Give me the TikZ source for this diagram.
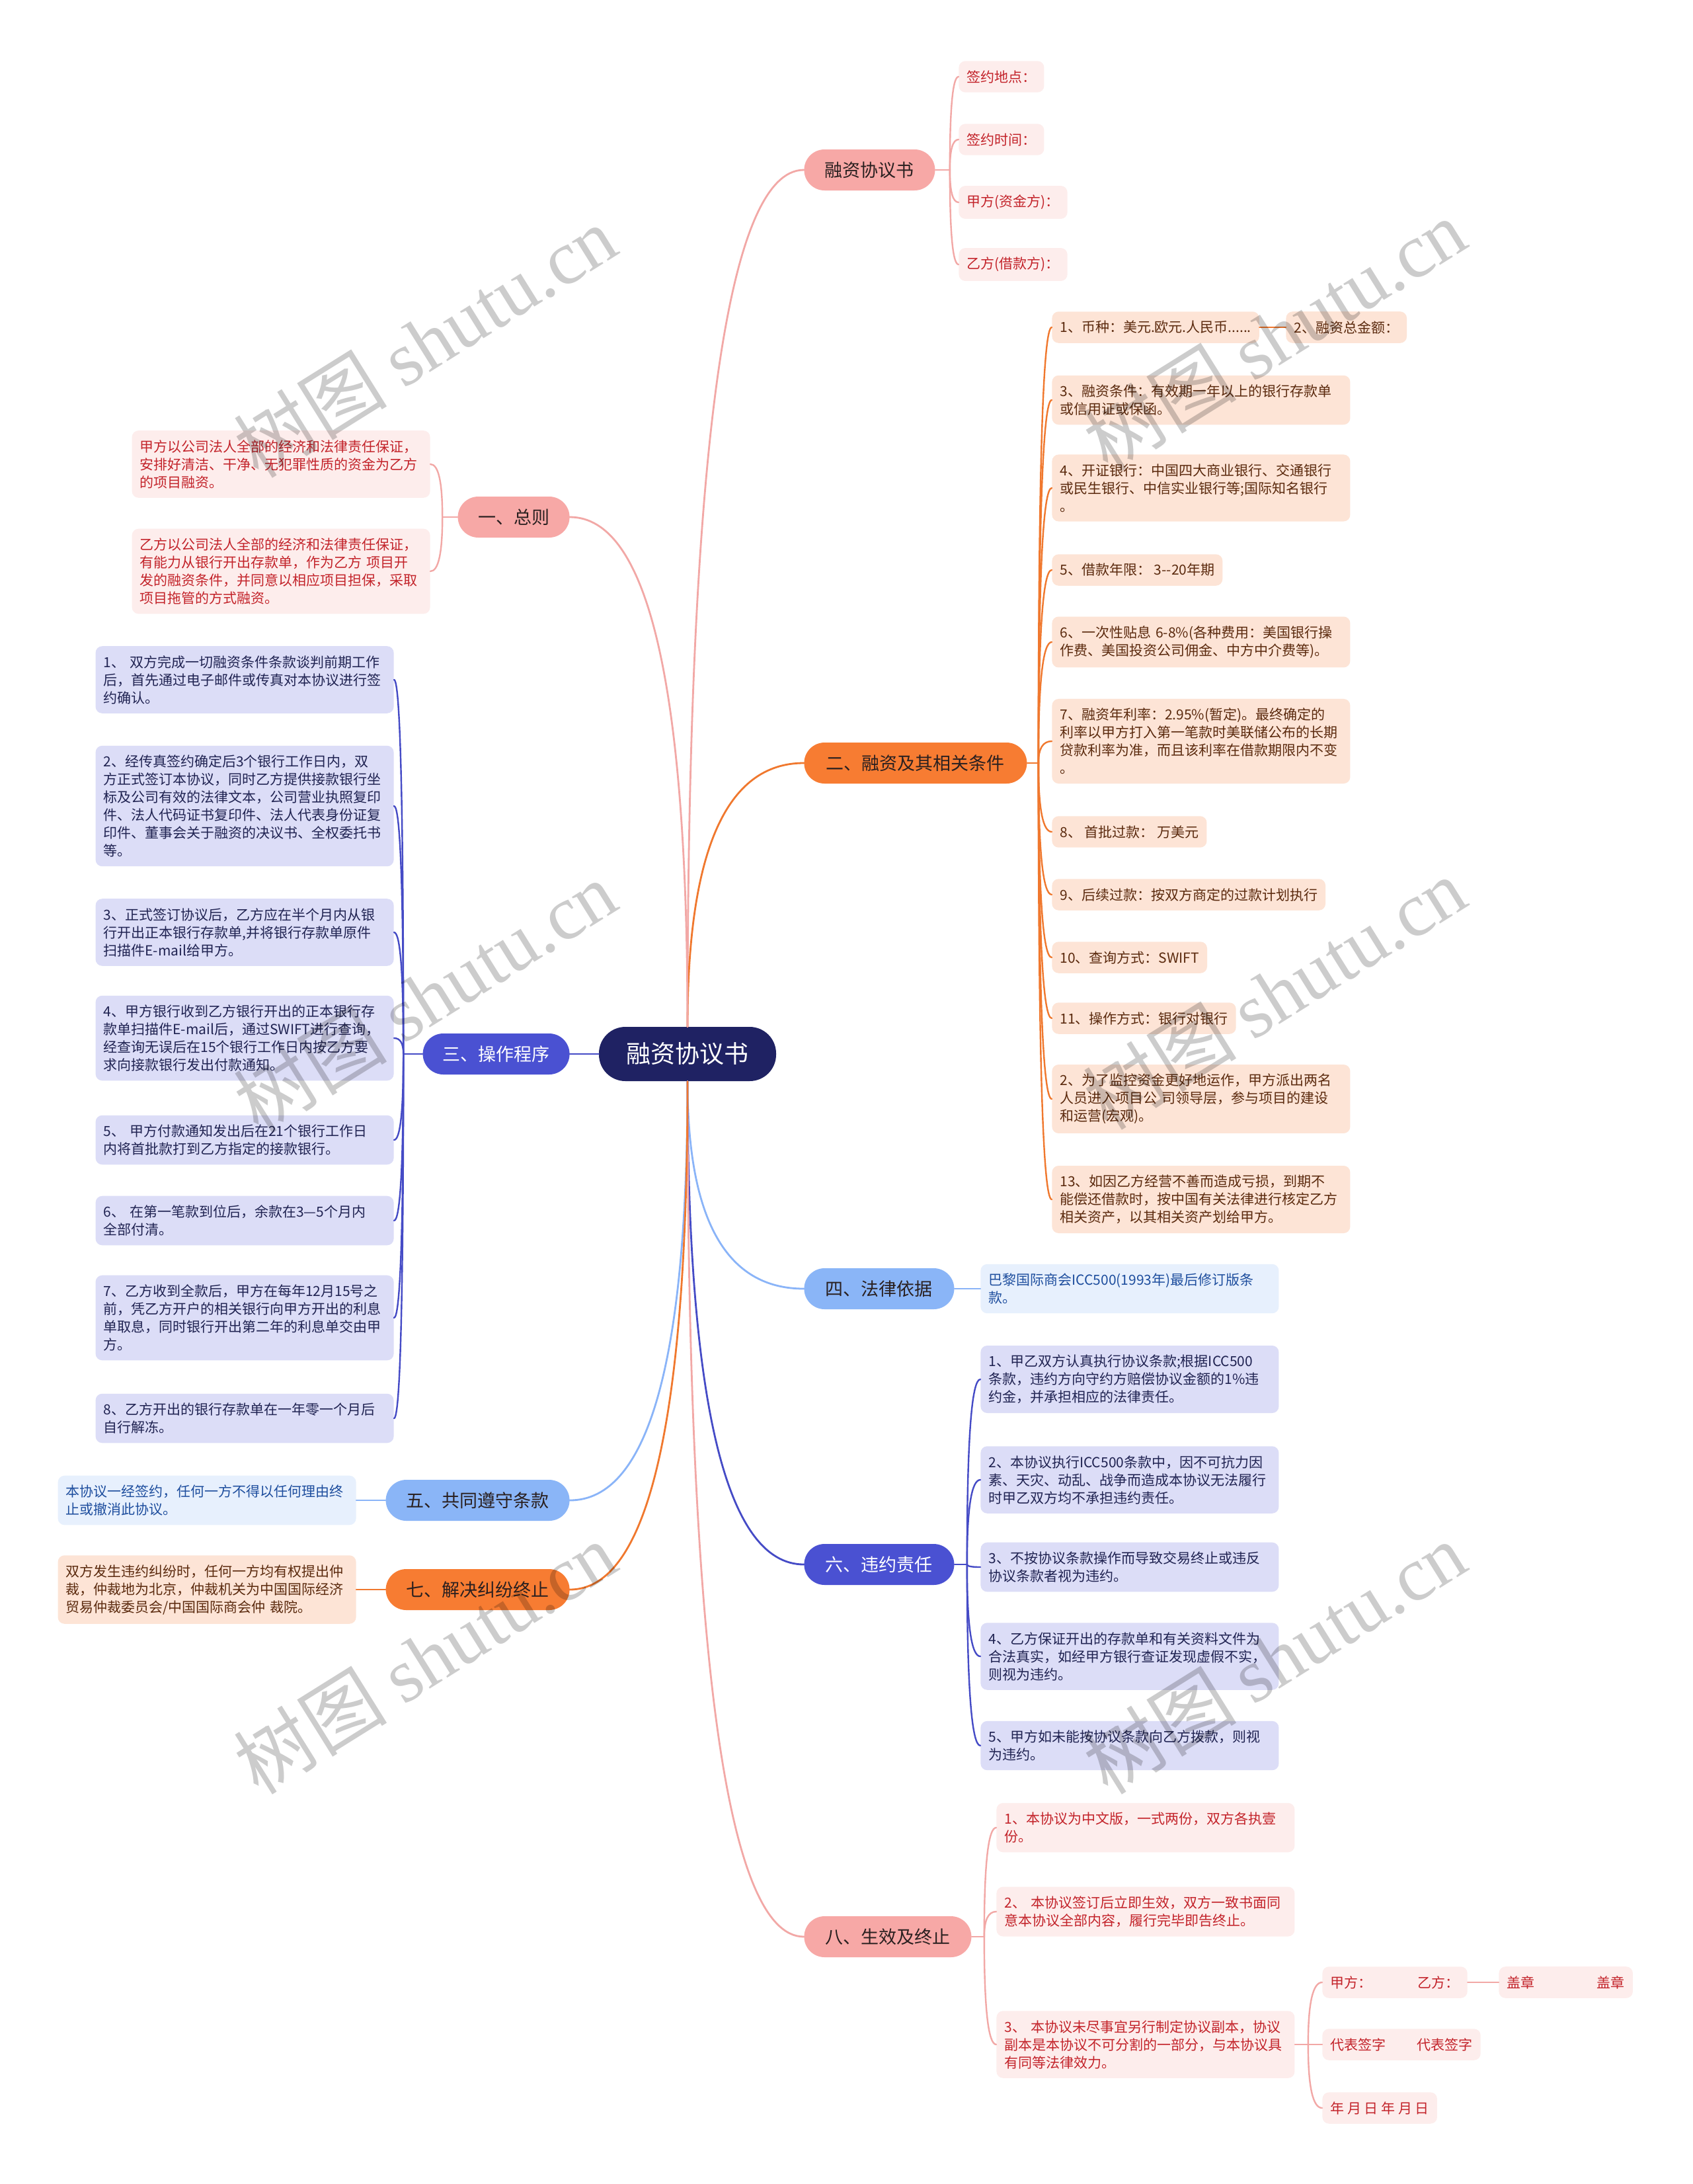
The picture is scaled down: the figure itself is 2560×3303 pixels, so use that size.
\documentclass[tikz,border=0pt]{standalone}
\usepackage{fontspec}
\setmainfont{Noto Sans CJK SC}
\newfontfamily\wmlatin{Liberation Serif}
\usetikzlibrary{calc}
\definecolor{rootC}{HTML}{1F2263}
\definecolor{pkB}{HTML}{F7A8A6}
\definecolor{pkL}{HTML}{F2A8A6}
\definecolor{pkLeaf}{HTML}{FDEDEC}
\definecolor{pkText}{HTML}{C3232A}
\definecolor{orB}{HTML}{F77C32}
\definecolor{orL}{HTML}{F0782E}
\definecolor{orLeaf}{HTML}{FDE4D6}
\definecolor{orText}{HTML}{5B2A0E}
\definecolor{inB}{HTML}{4A51D2}
\definecolor{inL}{HTML}{454BC6}
\definecolor{inLeaf}{HTML}{DCDDF7}
\definecolor{inText}{HTML}{202352}
\definecolor{blB}{HTML}{8AB5F7}
\definecolor{blL}{HTML}{8AB4F8}
\definecolor{blLeaf}{HTML}{E7F0FD}
\definecolor{blText}{HTML}{1E4E9E}
\definecolor{darkT}{HTML}{2A2020}
\newcommand\leaffont{\fontsize{10.5pt}{13.5pt}\selectfont}
\newcommand\branchfont{\fontsize{13.5pt}{16pt}\selectfont}
\newcommand\rootfont{\fontsize{18.5pt}{22pt}\selectfont}
\newcommand\mmcurve[3]{\draw[#1] (#2) .. controls ($(#2)!0.667!(#2 |- #3)$) and ($(#3)!0.667!(#2 |- #3)$) .. (#3);}
\tikzset{
  leaf/.style={font=\leaffont, inner xsep=6pt, inner ysep=7pt, rounded corners=5pt, align=left},
  wide/.style={text width=213.5pt},
  pleaf/.style={leaf, fill=pkLeaf, text=pkText},
  oleaf/.style={leaf, fill=orLeaf, text=orText},
  ileaf/.style={leaf, fill=inLeaf, text=inText},
  bleaf/.style={leaf, fill=blLeaf, text=blText},
  branch/.style={font=\branchfont, inner xsep=4pt, minimum height=31pt, rounded corners=15.5pt},
  pbr/.style={branch, fill=pkB, text=darkT},
  obr/.style={branch, fill=orB, text=darkT},
  ibr/.style={branch, fill=inB, text=white},
  bbr/.style={branch, fill=blB, text=darkT},
  rootn/.style={fill=rootC, text=white, font=\rootfont, minimum width=134pt, minimum height=41pt, rounded corners=20pt},
  conn/.style={line width=1.4pt, line cap=round},
  sub/.style={line width=1.2pt, line cap=round},
  pline/.style={conn, draw=pkL}, oline/.style={conn, draw=orL},
  iline/.style={conn, draw=inL}, bline/.style={conn, draw=blL},
  psub/.style={sub, draw=pkL}, osub/.style={sub, draw=orL},
  isub/.style={sub, draw=inL}, bsub/.style={sub, draw=blL},
  wm/.style={text=black, opacity=0.2, font=\fontsize{58pt}{62pt}\selectfont, rotate=32}
}
\begin{document}
\begin{tikzpicture}[x=0.5pt,y=-0.5pt]
\useasboundingbox (0,0) rectangle (2560,3303);
\fill[white] (0,0) rectangle (2560,3303);

% root
\node[rootn] (root) at (1040,1594) {融资协议书};

% ---------- right: 融资协议书
\node[pbr, minimum width=99pt, anchor=west] (bfin) at (1216,257) {融资协议书};
\node[pleaf, anchor=west] (f1) at (1450,116) {签约地点：};
\node[pleaf, anchor=west] (f2) at (1450,211) {签约时间：};
\node[pleaf, anchor=west] (f3) at (1450,306) {甲方(资金方)：};
\node[pleaf, anchor=west] (f4) at (1450,400) {乙方(借款方)：};

% ---------- right: 二
\node[obr, minimum width=168.5pt, anchor=west] (b2) at (1216,1154) {二、融资及其相关条件};
\node[oleaf, anchor=west] (c1) at (1591,495) {1、币种：美元.欧元.人民币......};
\node[oleaf, anchor=west] (c1b) at (1945,495) {2、融资总金额：};
\node[oleaf, wide, anchor=west] (c2) at (1591,605) {3、融资条件：有效期一年以上的银行存款单\\或信用证或保函。};
\node[oleaf, wide, anchor=west] (c3) at (1591,738) {4、开证银行：中国四大商业银行、交通银行\\或民生银行、中信实业银行等;国际知名银行\\。};
\node[oleaf, anchor=west] (c4) at (1591,862) {5、借款年限：~3-{}-20年期};
\node[oleaf, wide, anchor=west] (c5) at (1591,971) {6、一次性贴息~6-8\%(各种费用：美国银行操\\作费、美国投资公司佣金、中方中介费等)。};
\node[oleaf, wide, anchor=west] (c6) at (1591,1121) {7、融资年利率：2.95\%(暂定)。最终确定的\\利率以甲方打入第一笔款时美联储公布的长期\\贷款利率为准，而且该利率在借款期限内不变\\。};
\node[oleaf, anchor=west] (c7) at (1591,1258) {8、~首批过款：~万美元};
\node[oleaf, anchor=west] (c8) at (1591,1353) {9、后续过款：按双方商定的过款计划执行};
\node[oleaf, anchor=west] (c9) at (1591,1448) {10、查询方式：SWIFT};
\node[oleaf, anchor=west] (c10) at (1591,1540) {11、操作方式：银行对银行};
\node[oleaf, wide, anchor=west] (c11) at (1591,1662) {2、为了监控资金更好地运作，甲方派出两名\\人员进入项目公~司领导层，参与项目的建设\\和运营(宏观)。};
\node[oleaf, wide, anchor=west] (c12) at (1591,1814) {13、如因乙方经营不善而造成亏损，到期不\\能偿还借款时，按中国有关法律进行核定乙方\\相关资产，以其相关资产划给甲方。};

% ---------- right: 四
\node[bbr, minimum width=113.5pt, anchor=west] (b4) at (1216,1949) {四、法律依据};
\node[bleaf, wide, anchor=west] (d1) at (1483,1949) {巴黎国际商会ICC500(1993年)最后修订版条\\款。};

% ---------- right: 六
\node[ibr, minimum width=113.5pt, anchor=west] (b6) at (1216,2366) {六、违约责任};
\node[ileaf, wide, anchor=west] (e1) at (1483,2086) {1、甲乙双方认真执行协议条款;根据ICC500\\条款，违约方向守约方赔偿协议金额的1\%违\\约金，并承担相应的法律责任。};
\node[ileaf, wide, anchor=west] (e2) at (1483,2238) {2、本协议执行ICC500条款中，因不可抗力因\\素、天灾、动乱、战争而造成本协议无法履行\\时甲乙双方均不承担违约责任。};
\node[ileaf, wide, anchor=west] (e3) at (1483,2370) {3、不按协议条款操作而导致交易终止或违反\\协议条款者视为违约。};
\node[ileaf, wide, anchor=west] (e4) at (1483,2505) {4、乙方保证开出的存款单和有关资料文件为\\合法真实，如经甲方银行查证发现虚假不实，\\则视为违约。};
\node[ileaf, wide, anchor=west] (e5) at (1483,2640) {5、甲方如未能按协议条款向乙方拨款，则视\\为违约。};

% ---------- right: 八
\node[pbr, minimum width=126.5pt, anchor=west] (b8) at (1216,2929) {八、生效及终止};
\node[pleaf, wide, anchor=west] (g1) at (1507,2764) {1、本协议为中文版，一式两份，双方各执壹\\份。};
\node[pleaf, wide, anchor=west] (g2) at (1507,2891) {2、~本协议签订后立即生效，双方一致书面同\\意本协议全部内容，履行完毕即告终止。};
\node[pleaf, wide, anchor=west] (g3) at (1507,3092) {3、~本协议未尽事宜另行制定协议副本，协议\\副本是本协议不可分割的一部分，与本协议具\\有同等法律效力。};
\node[pleaf, anchor=west] (h1) at (2000,2998) {甲方：\hspace{3.3em}乙方：};
\node[pleaf, anchor=west] (h1b) at (2267,2998) {盖章\hspace{4.5em}盖章};
\node[pleaf, anchor=west] (h2) at (2000,3092) {代表签字\hspace{2.25em}代表签字};
\node[pleaf, anchor=west] (h3) at (2000,3188) {年 月 日 年 月 日};

% ---------- left: 一
\node[pbr, minimum width=84.5pt, anchor=east] (b1) at (862,782) {一、总则};
\node[pleaf, wide, anchor=east] (a1) at (651,702) {甲方以公司法人全部的经济和法律责任保证，\\安排好清洁、干净、无犯罪性质的资金为乙方\\的项目融资。};
\node[pleaf, wide, anchor=east] (a2) at (651,864) {乙方以公司法人全部的经济和法律责任保证，\\有能力从银行开出存款单，作为乙方~项目开\\发的融资条件，并同意以相应项目担保，采取\\项目拖管的方式融资。};

% ---------- left: 三
\node[ibr, minimum width=111pt, anchor=east] (b3) at (862,1594) {三、操作程序};
\node[ileaf, wide, anchor=east] (k1) at (596,1028) {1、~双方完成一切融资条件条款谈判前期工作\\后，首先通过电子邮件或传真对本协议进行签\\约确认。};
\node[ileaf, wide, anchor=east] (k2) at (596,1219) {2、经传真签约确定后3个银行工作日内，双\\方正式签订本协议，同时乙方提供接款银行坐\\标及公司有效的法律文本，公司营业执照复印\\件、法人代码证书复印件、法人代表身份证复\\印件、董事会关于融资的决议书、全权委托书\\等。};
\node[ileaf, wide, anchor=east] (k3) at (596,1410) {3、正式签订协议后，乙方应在半个月内从银\\行开出正本银行存款单,并将银行存款单原件\\扫描件E-mail给甲方。};
\node[ileaf, wide, anchor=east] (k4) at (596,1570) {4、甲方银行收到乙方银行开出的正本银行存\\款单扫描件E-mail后，通过SWIFT进行查询，\\经查询无误后在15个银行工作日内按乙方要\\求向接款银行发出付款通知。};
\node[ileaf, wide, anchor=east] (k5) at (596,1724) {5、~甲方付款通知发出后在21个银行工作日\\内将首批款打到乙方指定的接款银行。};
\node[ileaf, wide, anchor=east] (k6) at (596,1846) {6、~在第一笔款到位后，余款在3—5个月内\\全部付清。};
\node[ileaf, wide, anchor=east] (k7) at (596,1993) {7、乙方收到全款后，甲方在每年12月15号之\\前，凭乙方开户的相关银行向甲方开出的利息\\单取息，同时银行开出第二年的利息单交由甲\\方。};
\node[ileaf, wide, anchor=east] (k8) at (596,2145) {8、乙方开出的银行存款单在一年零一个月后\\自行解冻。};

% ---------- left: 五, 七
\node[bbr, minimum width=139pt, anchor=east] (b5) at (862,2269) {五、共同遵守条款};
\node[bleaf, wide, anchor=east] (m1) at (539,2269) {本协议一经签约，任何一方不得以任何理由终\\止或撤消此协议。};
\node[obr, minimum width=139pt, anchor=east] (b7) at (862,2404) {七、解决纠纷终止};
\node[oleaf, wide, anchor=east] (n1) at (539,2404) {双方发生违约纠纷时，任何一方均有权提出仲\\裁，仲裁地为北京，仲裁机关为中国国际经济\\贸易仲裁委员会/中国国际商会仲~裁院。};

% ---------- root connectors
\mmcurve{pline}{root.north}{bfin.west}
\mmcurve{oline}{root.north}{b2.west}
\mmcurve{pline}{root.north}{b1.east}
\draw[iline] (root.west) -- (b3.east);
\mmcurve{bline}{root.south}{b4.west}
\mmcurve{iline}{root.south}{b6.west}
\mmcurve{pline}{root.south}{b8.west}
\mmcurve{bline}{root.south}{b5.east}
\mmcurve{oline}{root.south}{b7.east}

% ---------- spines
\coordinate (sfin) at ($(bfin.east)+(22,0)$);
\coordinate (s2) at ($(b2.east)+(17,0)$);
\coordinate (s6) at ($(b6.east)+(19,0)$);
\coordinate (s8) at ($(b8.east)+(19,0)$);
\coordinate (s83) at ($(g3.east)+(20,0)$);
\coordinate (s1) at ($(b1.west)+(-23,0)$);
\coordinate (s3) at ($(b3.west)+(-29,0)$);

\draw[psub] (bfin.east) -- (sfin);
\foreach \c in {f1,f2,f3,f4}{\mmcurve{psub}{sfin}{\c.west}}
\draw[osub] (b2.east) -- (s2);
\foreach \c in {c1,c2,c3,c4,c5,c6,c7,c8,c9,c10,c11,c12}{\mmcurve{osub}{s2}{\c.west}}
\draw[osub] (c1.east) -- (c1b.west);
\draw[bsub] (b4.east) -- (d1.west);
\draw[isub] (b6.east) -- (s6);
\foreach \c in {e1,e2,e3,e4,e5}{\mmcurve{isub}{s6}{\c.west}}
\draw[psub] (b8.east) -- (s8);
\foreach \c in {g1,g2,g3}{\mmcurve{psub}{s8}{\c.west}}
\draw[psub] (g3.east) -- (s83);
\foreach \c in {h1,h2,h3}{\mmcurve{psub}{s83}{\c.west}}
\draw[psub] (h1.east) -- (h1b.west);
\draw[psub] (b1.west) -- (s1);
\foreach \c in {a1,a2}{\mmcurve{psub}{s1}{\c.east}}
\draw[isub] (b3.west) -- (s3);
\foreach \c in {k1,k2,k3,k4,k5,k6,k7,k8}{\mmcurve{isub}{s3}{\c.east}}
\draw[bsub] (b5.west) -- (m1.east);
\draw[osub] (b7.west) -- (n1.east);

% ---------- watermarks
\foreach \p in {(643,516),(1928,506),(643,1507),(1928,1502),(643,2507),(1928,2507)}{
  \node[wm] at \p {树图~{\wmlatin shutu.cn}};
}
\end{tikzpicture}
\end{document}
